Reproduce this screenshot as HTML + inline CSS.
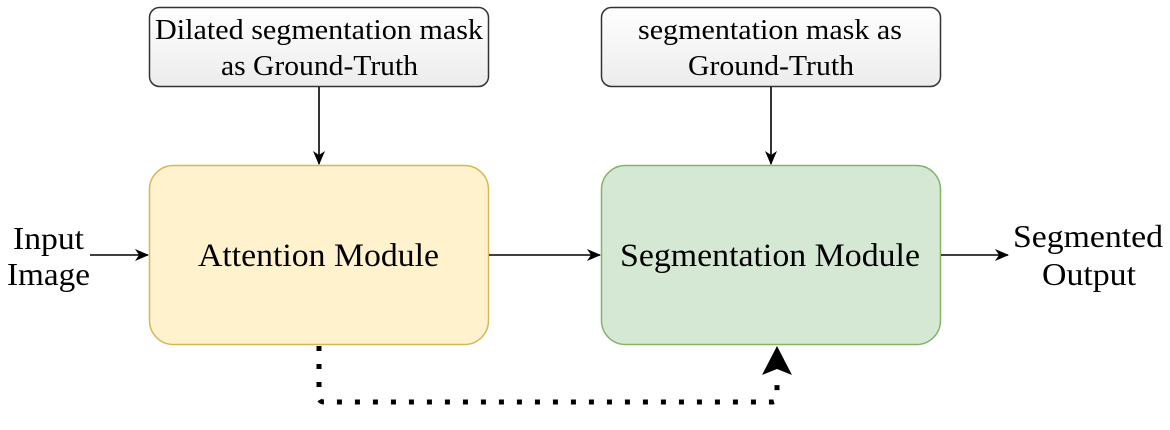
<!DOCTYPE html>
<html><head><meta charset="utf-8"><style>
html,body{margin:0;padding:0;background:#fff;}
svg{display:block;}
text{font-family:"Liberation Serif",serif;fill:#000;}
</style></head><body>
<svg width="1170" height="430" viewBox="0 0 1170 430" xmlns="http://www.w3.org/2000/svg">
<defs>
<linearGradient id="g" x1="0" y1="0" x2="0" y2="1">
<stop offset="0" stop-color="#ffffff"/><stop offset="1" stop-color="#ececec"/>
</linearGradient>
<marker id="a" viewBox="0 0 14 12" refX="13" refY="6" markerWidth="14" markerHeight="12" markerUnits="userSpaceOnUse" orient="auto">
<path d="M0,0 L14,6 L0,12 L4,6 Z" fill="#000"/>
</marker>
</defs>
<rect x="149.5" y="7.5" width="339" height="79" rx="10" fill="url(#g)" stroke="#333" stroke-width="1.5"/>
<text x="155" y="39" font-size="28" textLength="328" lengthAdjust="spacingAndGlyphs">Dilated segmentation mask</text>
<text x="221" y="75" font-size="28" textLength="197" lengthAdjust="spacingAndGlyphs">as Ground-Truth</text>
<rect x="601.5" y="7.5" width="339" height="79" rx="10" fill="url(#g)" stroke="#333" stroke-width="1.5"/>
<text x="638" y="39" font-size="28" textLength="264" lengthAdjust="spacingAndGlyphs">segmentation mask as</text>
<text x="688" y="75" font-size="28" textLength="166" lengthAdjust="spacingAndGlyphs">Ground-Truth</text>

<rect x="149.5" y="165.5" width="339" height="179" rx="24" fill="#fff2cc" stroke="#d6b656" stroke-width="1.5"/>
<text x="198" y="266" font-size="33" textLength="241" lengthAdjust="spacingAndGlyphs">Attention Module</text>
<rect x="601.5" y="165.5" width="339" height="179" rx="24" fill="#d5e8d4" stroke="#82b366" stroke-width="1.5"/>
<text x="620" y="266" font-size="33" textLength="300" lengthAdjust="spacingAndGlyphs">Segmentation Module</text>

<line x1="319" y1="87" x2="319" y2="164" stroke="#000" stroke-width="1.6" marker-end="url(#a)"/>
<line x1="771" y1="87" x2="771" y2="164" stroke="#000" stroke-width="1.6" marker-end="url(#a)"/>
<line x1="90" y1="255" x2="148" y2="255" stroke="#000" stroke-width="1.6" marker-end="url(#a)"/>
<line x1="489" y1="255" x2="600" y2="255" stroke="#000" stroke-width="1.6" marker-end="url(#a)"/>
<line x1="941" y1="255" x2="1008" y2="255" stroke="#000" stroke-width="1.6" marker-end="url(#a)"/>

<text x="13" y="249" font-size="32" textLength="71" lengthAdjust="spacingAndGlyphs">Input</text>
<text x="7" y="285" font-size="32" textLength="83" lengthAdjust="spacingAndGlyphs">Image</text>
<text x="1013" y="247" font-size="32" textLength="150" lengthAdjust="spacingAndGlyphs">Segmented</text>
<text x="1042" y="285" font-size="32" textLength="94" lengthAdjust="spacingAndGlyphs">Output</text>

<path d="M319,346 L319,397 Q319,402 324,402 L772,402 Q777,402 777,397 L777,380" fill="none" stroke="#000" stroke-width="5" stroke-dasharray="5 13"/>
<path d="M777,346 L792,375 L777,369 L762,375 Z" fill="#000"/>
</svg>
</body></html>
